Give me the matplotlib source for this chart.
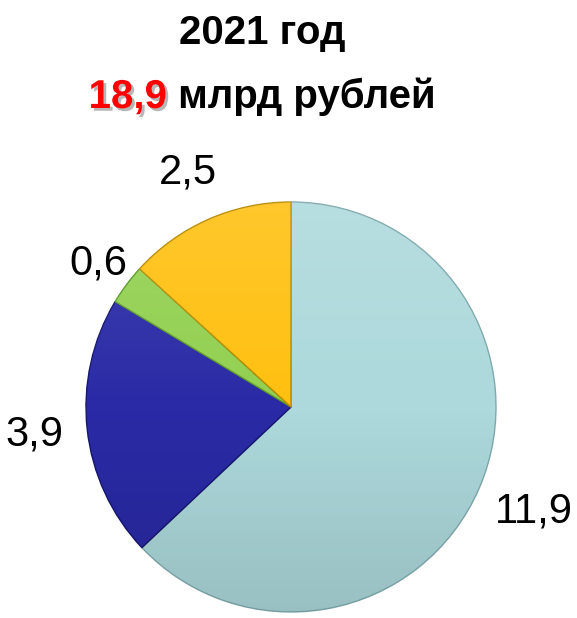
import matplotlib.pyplot as plt
import matplotlib.patheffects as pe
from matplotlib.patches import Circle
import numpy as np

plt.rcParams['font.family'] = ['Liberation Sans', 'DejaVu Sans']

values = [11.9, 3.9, 0.6, 2.5]
labels = ['11,9', '3,9', '0,6', '2,5']
colors = ['#ADD9DC', '#2A2AA6', '#92D050', '#FFC010']
edge_colors = ['#7FA9AC', '#161670', '#5E9A2A', '#B88A00']
label_dist = [1.29, 1.26, 1.17, 1.25]

total_text = '18,9'
year_text = '2021 год'
unit_text = ' млрд рублей'

W, H = 577, 618
fig = plt.figure(figsize=(W / 100, H / 100), dpi=100)

# pie axes: centre (291, 407) px, radius ~205 px
cx, cy, r = 291, 407, 205
ax = fig.add_axes([(cx - r) / W, (H - cy - r) / H, 2 * r / W, 2 * r / H])

wedges, _ = ax.pie(values, colors=colors, startangle=90, counterclock=False,
                   radius=1.0, wedgeprops=dict(linewidth=1.0))
for w, ec in zip(wedges, edge_colors):
    w.set_edgecolor(ec)

# soft top-light / bottom-dark shading over the pie
grad = np.linspace(1, -1, 256)[:, None]
shade = np.zeros((256, 1, 4))
shade[..., :3] = np.where(grad > 0, 1.0, 0.0)[..., None]
shade[..., 3] = np.abs(grad) * 0.12
img = ax.imshow(shade, extent=(-1, 1, -1, 1), aspect='auto', zorder=3, interpolation='bilinear')
img.set_clip_path(Circle((0, 0), 1.0, transform=ax.transData))

ax.set_xlim(-1, 1)
ax.set_ylim(-1, 1)
ax.set_aspect('equal')
ax.axis('off')

for w, lab, d in zip(wedges, labels, label_dist):
    ang = np.deg2rad((w.theta1 + w.theta2) / 2)
    ax.text(d * np.cos(ang), d * np.sin(ang), lab, ha='center', va='center',
            fontsize=30, color='black', clip_on=False)

# title
fig.text(262 / W, 1 - 33 / H, year_text, ha='center', va='center',
         fontsize=29, fontweight='bold', color='black')

t1 = fig.text(0, 1 - 97 / H, total_text, ha='left', va='center',
              fontsize=29, fontweight='bold', color='#FF0000',
              path_effects=[pe.SimplePatchShadow(offset=(2, -2), shadow_rgbFace='#999999', alpha=0.7),
                            pe.Normal()])
t2 = fig.text(0, 1 - 97 / H, unit_text, ha='left', va='center',
              fontsize=29, fontweight='bold', color='black')

fig.canvas.draw()
rend = fig.canvas.get_renderer()
w1 = t1.get_window_extent(rend).width
w2 = t2.get_window_extent(rend).width
x0 = 262 - (w1 + w2) / 2
t1.set_x(x0 / W)
t2.set_x((x0 + w1) / W)

fig.savefig('out.png', dpi=100)
